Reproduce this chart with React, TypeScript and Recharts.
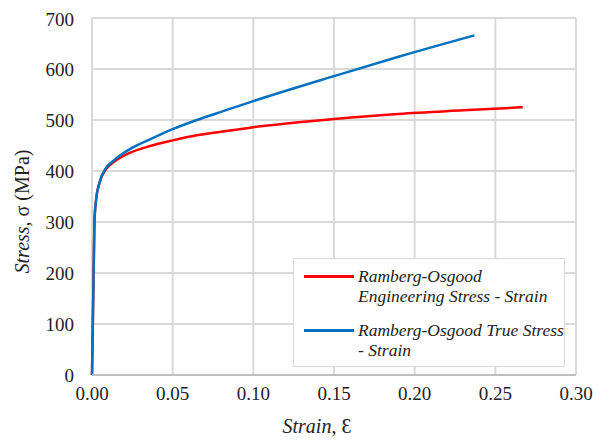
import { LineChart, Line, XAxis, YAxis, CartesianGrid, Legend } from "recharts";

// engineering stress-strain (Ramberg-Osgood)
const engStrain = [0, 0.0015, 0.0025, 0.0045, 0.0087, 0.0128, 0.018, 0.023, 0.036, 0.05, 0.065, 0.08, 0.1, 0.15, 0.19, 0.23, 0.267];
const engStress = [0, 300, 343, 375, 404, 416, 427, 435, 449, 460, 470, 477, 486, 502, 512, 519, 525];

// true stress-strain
const trueStrain = [0, 0.0015, 0.0025, 0.0045, 0.0087, 0.0128, 0.018, 0.023, 0.036, 0.05, 0.065, 0.08, 0.1, 0.15, 0.191, 0.237];
const trueStress = [0, 300, 343, 376, 406, 419, 432, 442, 462, 482, 500, 516, 537, 586, 625, 666];

const xTicks = [0, 0.05, 0.1, 0.15, 0.2, 0.25, 0.3];
const yTicks = [0, 100, 200, 300, 400, 500, 600, 700];

const seriesNames = ["Ramberg-Osgood\nEngineering Stress - Strain", "Ramberg-Osgood True Stress\n- Strain"];
const seriesColors = ["#FF0000", "#0070C0"];

const engData = engStrain.map((x, i) => ({ x, y: engStress[i] }));
const trueData = trueStrain.map((x, i) => ({ x, y: trueStress[i] }));

const FONT = "Liberation Serif";

function XTitle({ viewBox }: any) {
  const cx = viewBox.x + viewBox.width / 2 - 17;
  return (
    <text x={cx} y={viewBox.y + viewBox.height} textAnchor="middle" style={{ fontFamily: FONT }} fontSize={20} fill="#222">
      <tspan fontStyle="italic">Strain</tspan>
      <tspan>, Ɛ</tspan>
    </text>
  );
}

function YTitle({ viewBox }: any) {
  const x = 21;
  const y = viewBox.y + viewBox.height / 2 + 15;
  return (
    <text x={x} y={y} transform={`rotate(-90, ${x}, ${y})`} textAnchor="middle" style={{ fontFamily: FONT }} fontSize={20} fill="#222">
      <tspan fontStyle="italic">Stress</tspan>
      <tspan>, σ (MPa)</tspan>
    </text>
  );
}

function LegendBox() {
  return (
    <div
      style={{
        width: 272,
        border: "1.5px solid #D9D9D9",
        background: "#fff",
        padding: "7px 0 6px 0",
        fontFamily: FONT,
        fontStyle: "italic",
        fontSize: 17.5,
        lineHeight: "20px",
        color: "#222",
        boxSizing: "border-box",
      }}
    >
      {seriesNames.map((name, i) => (
        <div key={i} style={{ display: "flex", alignItems: "flex-start", marginTop: i === 0 ? 0 : 14 }}>
          <div style={{ width: 50, height: 2.5, background: seriesColors[i], marginLeft: 10, marginTop: 9, flexShrink: 0 }} />
          <div style={{ marginLeft: 4, whiteSpace: "pre-line", textAlign: "left" }}>{name}</div>
        </div>
      ))}
    </div>
  );
}

export default function App() {
  return (
    <div style={{ fontFamily: FONT }}>
      <LineChart width={594} height={433} margin={{ top: 10, right: 26, left: 0, bottom: 8 }} style={{ fontFamily: FONT }}>
        <CartesianGrid stroke="#D9D9D9" strokeWidth={2} />
        <XAxis
          dataKey="x"
          type="number"
          domain={[0, 0.3]}
          ticks={xTicks}
          tickFormatter={(v: number) => v.toFixed(2)}
          height={58}
          tickSize={0}
          tickMargin={12}
          tickLine={false}
          axisLine={{ stroke: "#BFBFBF", strokeWidth: 2 }}
          tick={{ fontFamily: FONT, fontSize: 19, fill: "#222" }}
          label={<XTitle />}
        />
        <YAxis
          type="number"
          domain={[0, 700]}
          ticks={yTicks}
          width={84}
          tickSize={0}
          tickMargin={18}
          tickLine={false}
          axisLine={false}
          tick={{ fontFamily: FONT, fontSize: 19, fill: "#222" }}
          label={<YTitle />}
        />
        <Legend
          layout="horizontal"
          verticalAlign="middle"
          align="center"
          content={<LegendBox />}
          wrapperStyle={{ left: 285, top: 250, width: 274 }}
        />
        <Line
          data={engData}
          dataKey="y"
          name={seriesNames[0]}
          type="monotone"
          stroke={seriesColors[0]}
          strokeWidth={2.5}
          dot={false}
          isAnimationActive={false}
        />
        <Line
          data={trueData}
          dataKey="y"
          name={seriesNames[1]}
          type="monotone"
          stroke={seriesColors[1]}
          strokeWidth={2.5}
          dot={false}
          isAnimationActive={false}
        />
      </LineChart>
    </div>
  );
}
